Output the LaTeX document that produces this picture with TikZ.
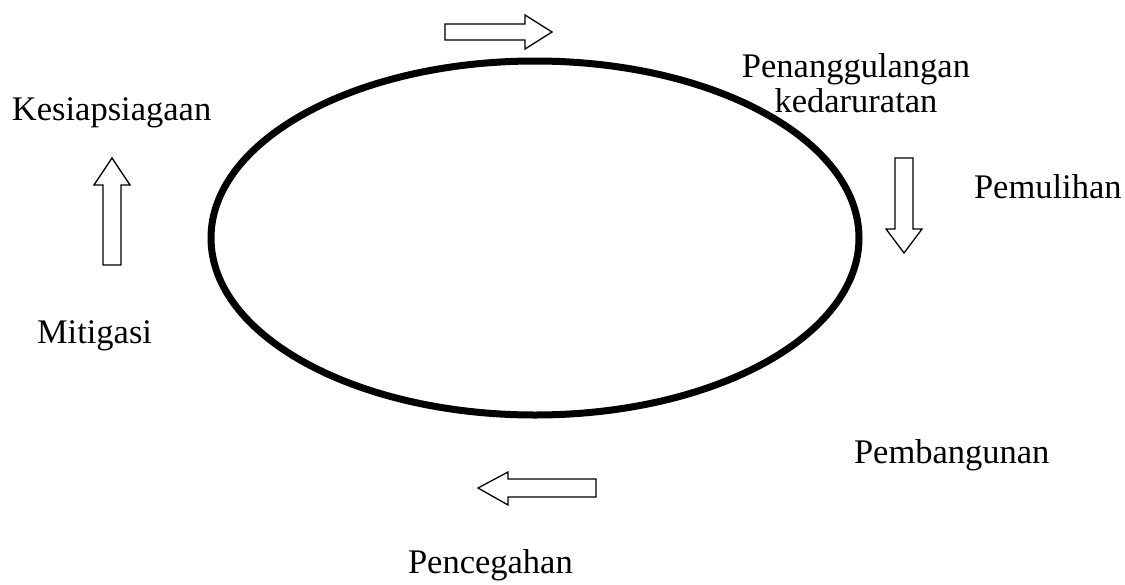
\documentclass[tikz,border=0pt]{standalone}
\usepackage{fontspec}
\setmainfont{Liberation Serif}
\begin{document}
\begin{tikzpicture}[x=1pt,y=-1pt,
  lbl/.style={inner sep=0pt,outer sep=0pt,font=\fontsize{34.5}{35}\selectfont},
  blockarrow/.style={draw=black,line width=1.3pt,fill=white,line join=miter}]
\useasboundingbox (0,0) rectangle (1125,584);
% cycle ellipse
\draw[line width=7pt] (535,238) ellipse [x radius=324, y radius=177];
% block arrows
\draw[blockarrow] (445,24) -- (525,24) -- (525,15) -- (552,32) -- (525,49) -- (525,40) -- (445,40) -- cycle;
\draw[blockarrow] (895,158) -- (913,158) -- (913,229) -- (922,229) -- (904,253) -- (886,229) -- (895,229) -- cycle;
\draw[blockarrow] (103,265) -- (103,185) -- (94,185) -- (112,158) -- (130,185) -- (121,185) -- (121,265) -- cycle;
\draw[blockarrow] (596,479) -- (508,479) -- (508,472) -- (478,488) -- (508,505) -- (508,497) -- (596,497) -- cycle;
% labels
\node[lbl,anchor=base west] (kes) at (12,120) {Kesiapsiagaan};
\node[lbl,anchor=base,align=center] (pen) at (856,112) {Penanggulangan\\kedaruratan};
\node[lbl,anchor=base west] (pem) at (974,198) {Pemulihan};
\node[lbl,anchor=base west] (mit) at (37,343) {Mitigasi};
\node[lbl,anchor=base west] (bang) at (854,463) {Pembangunan};
\node[lbl,anchor=base west] (ceg) at (408,573) {Pencegahan};
\end{tikzpicture}
\end{document}
